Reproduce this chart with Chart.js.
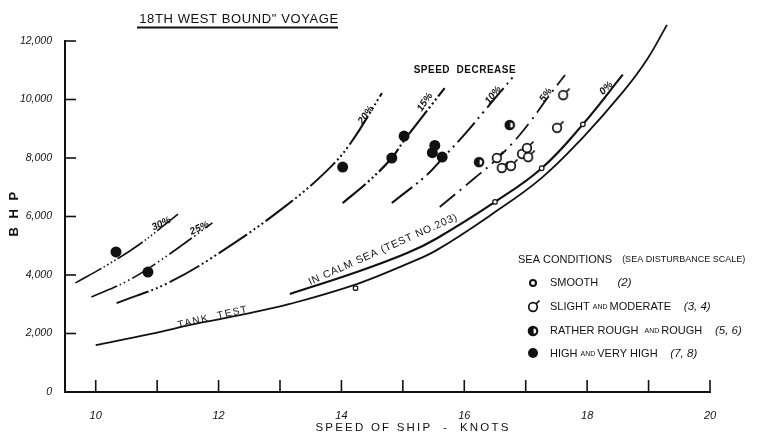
<!DOCTYPE html>
<html><head><meta charset="utf-8">
<script src="https://cdn.jsdelivr.net/npm/chart.js@4/dist/chart.umd.min.js"></script>
<style>html,body{margin:0;padding:0;background:#fff}#wrap{width:775px;height:435px;position:relative}</style>
</head><body><div id="wrap"><canvas id="c" width="775" height="435"></canvas></div>
<script>
// ---- data ----
const xTickValues = [10, 11, 12, 13, 14, 15, 16, 17, 18, 19, 20];
const xTickLabels = ['10', '', '12', '', '14', '', '16', '', '18', '', '20'];
const yTickValues = [0, 2000, 4000, 6000, 8000, 10000, 12000];
const yTickLabels = ['0', '2,000', '4,000', '6,000', '8,000', '10,000', '12,000'];

const tankTestSpeed = [10.0, 10.88, 11.69, 12.51, 13.16, 14.25, 15.07, 15.55, 16.50, 17.26, 17.93, 18.58, 18.97, 19.30];
const tankTestBhp   = [1600, 1980, 2360, 2700, 3010, 3690, 4380, 4850, 6150, 7320, 8700, 10250, 11350, 12550];

const calmSeaSpeed = [13.16, 14.25, 15.07, 15.55, 16.50, 17.26, 17.93, 18.58];
const calmSeaBhp   = [3350, 4100, 4750, 5250, 6500, 7650, 9150, 10850];

const dec30Speed = [9.67, 10.2, 10.72, 11.34];
const dec30Bhp   = [3730, 4360, 5060, 6085];
const dec25Speed = [9.93, 10.5, 11.04, 11.9];
const dec25Bhp   = [3250, 3780, 4480, 5780];
const dec20Speed = [10.34, 11.2, 12.13, 13.11, 13.76, 14.14, 14.66];
const dec20Bhp   = [3040, 3750, 4920, 6390, 7560, 8480, 10220];
const dec15Speed = [14.02, 14.43, 14.82, 15.02, 15.68];
const dec15Bhp   = [6460, 7180, 8000, 8600, 10390];
const dec10Speed = [14.82, 15.39, 15.65, 15.98, 16.30, 16.82];
const dec10Bhp   = [6460, 7420, 8000, 8750, 9540, 10840];
const dec5Speed  = [15.60, 16.17, 16.47, 16.79, 17.07, 17.35, 17.64];
const dec5Bhp    = [6325, 7316, 7850, 8520, 9230, 10040, 10840];

const smoothSpeed = [14.23, 16.50, 17.26, 17.93];
const smoothBhp   = [3550, 6500, 7650, 9150];
const slightSpeed = [16.53, 16.61, 16.76, 16.94, 17.02, 17.04, 17.51, 17.61];
const slightBhp   = [8000, 7660, 7730, 8140, 8340, 8030, 9030, 10150];
const roughSpeed  = [16.24, 16.74];
const roughBhp    = [7860, 9130];
const highSpeed   = [10.33, 10.85, 14.02, 14.82, 15.02, 15.52, 15.48, 15.64];
const highBhp     = [4790, 4100, 7690, 8000, 8750, 8430, 8180, 8030];

const curveLabels = ['30%', '25%', '20%', '15%', '10%', '5%', '0%'];

// ---- helpers ----
const pts = (xs, ys) => xs.map((x, i) => ({ x, y: ys[i] }));
const INK = '#111';
const FONT = '"Liberation Sans", Arial, sans-serif';

function makeCanvas(w, h, draw) {
  const c = document.createElement('canvas');
  c.width = w; c.height = h;
  const g = c.getContext('2d');
  draw(g);
  return c;
}
const slightImg = makeCanvas(18, 18, g => {
  g.strokeStyle = INK; g.fillStyle = '#fff'; g.lineWidth = 1.7;
  g.beginPath(); g.arc(9, 9, 4.3, 0, Math.PI * 2); g.fill(); g.stroke();
  g.beginPath(); g.moveTo(12, 6); g.lineTo(15.5, 2.5); g.stroke();
});
const roughImg = makeCanvas(14, 14, g => {
  g.fillStyle = INK;
  g.beginPath(); g.arc(7, 7, 5.3, 0, Math.PI * 2); g.fill();
  g.fillStyle = '#fff';
  g.beginPath(); g.arc(7.6, 7, 2.6, -Math.PI / 2, Math.PI / 2); g.closePath(); g.fill();
});

function curve(data, dash, width) {
  return {
    type: 'scatter', data, showLine: true, borderColor: INK, borderWidth: width || 2,
    borderDash: dash || [], pointRadius: 0, tension: 0.4,
    clip: false, fill: false
  };
}

// ---- annotation plugin ----
function txt(ctx, s, x, y, font, align, rot) {
  ctx.save();
  ctx.translate(x, y);
  if (rot) ctx.rotate(rot * Math.PI / 180);
  ctx.font = font; ctx.fillStyle = INK;
  ctx.textAlign = align || 'center'; ctx.textBaseline = 'middle';
  ctx.fillText(s, 0, 0);
  ctx.restore();
}
function runs(ctx, list, x, y) {
  let cx = x;
  ctx.save(); ctx.fillStyle = INK; ctx.textBaseline = 'middle'; ctx.textAlign = 'left';
  list.forEach(([s, f]) => { ctx.font = f; ctx.fillText(s, cx, y); cx += ctx.measureText(s).width; });
  ctx.restore();
}

const annot = {
  id: 'annot',
  afterDraw(chart) {
    const ctx = chart.ctx, xs = chart.scales.x, ys = chart.scales.y;
    const X = v => xs.getPixelForValue(v), Y = v => ys.getPixelForValue(v);
    const bottom = ys.getPixelForValue(0), left = xs.getPixelForValue(xs.min);
    ctx.save();
    ctx.strokeStyle = INK; ctx.lineWidth = 1.6;
    // inward ticks
    xTickValues.forEach(v => { const p = X(v); ctx.beginPath(); ctx.moveTo(p, bottom); ctx.lineTo(p, bottom - 12); ctx.stroke(); });
    yTickValues.forEach(v => { if (!v) return; const p = Y(v); ctx.beginPath(); ctx.moveTo(left, p); ctx.lineTo(left + 11, p); ctx.stroke(); });
    ctx.restore();

    // title
    ctx.save();
    ctx.font = '13px ' + FONT; ctx.fillStyle = INK; ctx.textAlign = 'center'; ctx.textBaseline = 'middle';
    ctx.letterSpacing = '0.6px';
    ctx.fillText('18TH WEST BOUND" VOYAGE', 239, 19);
    ctx.strokeStyle = INK; ctx.lineWidth = 1.8;
    ctx.beginPath(); ctx.moveTo(137, 27.5); ctx.lineTo(338, 27.5); ctx.stroke();
    ctx.restore();

    // axis titles
    ctx.save(); ctx.letterSpacing = '2.5px';
    txt(ctx, 'B H P', 14, 213, 'bold 13px ' + FONT, 'center', -90);
    ctx.letterSpacing = '2.2px';
    txt(ctx, 'SPEED OF SHIP  -  KNOTS', 413, 428, '11.5px ' + FONT, 'center', 0);
    ctx.restore();

    // curve labels
    const lf = 'italic bold 10px ' + FONT;
    txt(ctx, curveLabels[0], X(11.07), Y(5750), lf, 'center', -25);
    txt(ctx, curveLabels[1], X(11.69), Y(5600), lf, 'center', -25);
    txt(ctx, curveLabels[2], X(14.40), Y(9470), lf, 'center', -55);
    txt(ctx, curveLabels[3], X(15.36), Y(9910), lf, 'center', -57);
    txt(ctx, curveLabels[4], X(16.47), Y(10150), lf, 'center', -52);
    txt(ctx, curveLabels[5], X(17.33), Y(10150), lf, 'center', -55);
    txt(ctx, curveLabels[6], X(18.31), Y(10390), lf, 'center', -45);
    ctx.save(); ctx.letterSpacing = '0.5px';
    txt(ctx, 'SPEED  DECREASE', X(16.01), Y(11010), 'bold 10px ' + FONT, 'center', 0);
    ctx.letterSpacing = '1.5px';
    txt(ctx, 'TANK  TEST', X(11.91), Y(2560), '10px ' + FONT, 'center', -13);
    ctx.letterSpacing = '0.8px';
    txt(ctx, 'IN CALM SEA (TEST NO.203)', X(14.68), Y(4870), '10.5px ' + FONT, 'center', -24);
    ctx.restore();

    // legend
    const lx = 518, big = '11px ' + FONT, sm = '9px ' + FONT, tiny = '7px ' + FONT, it = 'italic 11.5px ' + FONT;
    runs(ctx, [['SEA CONDITIONS', big], ['    (SEA DISTURBANCE SCALE)', sm]], lx, 260);
    const ex = 533, tx = 550;
    ctx.save(); ctx.strokeStyle = INK; ctx.lineWidth = 2;
    ctx.beginPath(); ctx.arc(ex, 283, 3, 0, Math.PI * 2); ctx.stroke(); ctx.restore();
    ctx.drawImage(slightImg, ex - 9, 307 - 9);
    ctx.drawImage(roughImg, ex - 7, 331 - 7);
    ctx.save(); ctx.fillStyle = INK; ctx.beginPath(); ctx.arc(ex, 353, 5, 0, Math.PI * 2); ctx.fill(); ctx.restore();
    runs(ctx, [['SMOOTH', big], ['      (2)', it]], tx, 283);
    runs(ctx, [['SLIGHT ', big], ['AND ', tiny], ['MODERATE', big], ['    (3, 4)', it]], tx, 307);
    runs(ctx, [['RATHER ROUGH  ', big], ['AND ', tiny], ['ROUGH', big], ['    (5, 6)', it]], tx, 331);
    runs(ctx, [['HIGH ', big], ['AND ', tiny], ['VERY HIGH', big], ['    (7, 8)', it]], tx, 354);
  }
};

const chart = new Chart(document.getElementById('c'), {
  type: 'scatter',
  data: {
    datasets: [
      { data: pts(highSpeed, highBhp), pointStyle: 'circle', pointRadius: 5.5, backgroundColor: INK, borderColor: INK, borderWidth: 0, clip: false },
      { data: pts(roughSpeed, roughBhp), pointStyle: roughImg, pointRadius: 6, clip: false },
      { data: pts(slightSpeed, slightBhp), pointStyle: slightImg, pointRadius: 6, clip: false },
      { data: pts(smoothSpeed, smoothBhp), pointStyle: 'circle', pointRadius: 2.3, backgroundColor: '#fff', borderColor: INK, borderWidth: 1.2, clip: false },
      curve(pts(tankTestSpeed, tankTestBhp), [], 1.8),
      curve(pts(calmSeaSpeed, calmSeaBhp), [], 2.2),
      curve(pts(dec30Speed, dec30Bhp), [30, 2.5, 1.5, 2.5, 1.5, 2.5, 1.5, 2.5, 1.5, 2.5], 1.6),
      curve(pts(dec25Speed, dec25Bhp), [28, 3, 1.5, 3, 1.5, 3, 1.5, 3], 1.6),
      curve(pts(dec20Speed, dec20Bhp), [34, 3, 2, 3, 2, 3, 2, 3, 2, 3], 2),
      curve(pts(dec15Speed, dec15Bhp), [30, 3, 2, 3, 2, 3, 2, 3], 2.2),
      curve(pts(dec10Speed, dec10Bhp), [26, 5, 2, 5, 2, 5], 2),
      curve(pts(dec5Speed, dec5Bhp), [20, 6, 2, 6], 1.8)
    ]
  },
  options: {
    responsive: false, animation: false, events: [],
    layout: { padding: { top: 41, right: 65, left: 0, bottom: 0 } },
    plugins: { legend: { display: false }, tooltip: { enabled: false }, title: { display: false } },
    scales: {
      x: {
        type: 'linear', min: 9.5, max: 20,
        afterFit: s => { s.height = 43; },
        afterBuildTicks: s => { s.ticks = xTickValues.map(v => ({ value: v })); },
        grid: { display: false },
        border: { display: true, color: INK, width: 2 },
        ticks: { autoSkip: false, maxRotation: 0, padding: 9, color: INK, font: { family: 'Liberation Sans', size: 11, style: 'italic' },
          callback: v => xTickLabels[xTickValues.indexOf(v)] ?? '' }
      },
      y: {
        type: 'linear', min: 0, max: 12000,
        afterFit: s => { s.width = 65; },
        afterBuildTicks: s => { s.ticks = yTickValues.map(v => ({ value: v })); },
        grid: { display: false },
        border: { display: true, color: INK, width: 2 },
        ticks: { padding: 5, color: INK, font: { family: 'Liberation Sans', size: 10.5, style: 'italic' },
          callback: v => yTickLabels[yTickValues.indexOf(v)] ?? '' }
      }
    }
  },
  plugins: [annot]
});
</script></body></html>
